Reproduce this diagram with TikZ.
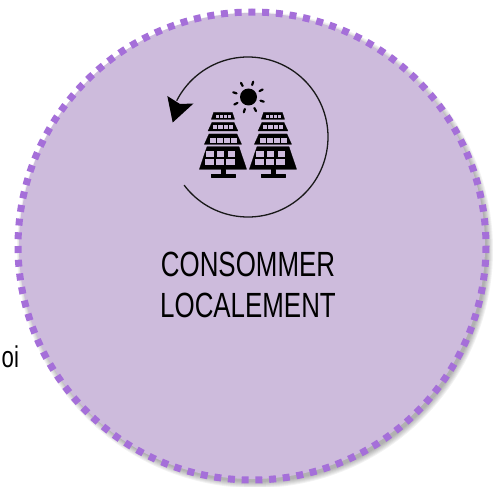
\documentclass[tikz,border=0pt]{standalone}
\usepackage{fontspec}
\setmainfont{Liberation Sans}
\newfontfamily\narrowfont[FakeStretch=0.74]{Liberation Sans}
\usetikzlibrary{arrows.meta}
\definecolor{discfill}{HTML}{CDBBDC}
\definecolor{discdots}{HTML}{A56FD9}
\tikzset{
  labeltext/.style={font=\narrowfont\fontsize{35}{41}\selectfont,align=center,text=black,inner sep=0pt},
  cell/.style={fill=discfill,draw=none},
  ink/.style={fill=black,draw=black,line width=0.2pt,line join=round},
  solarpanel/.pic={
    \fill[ink] (-28,217)--(28,217)--(35,238)--(-35,238)--cycle;
    \fill[ink] (-33,247)--(33,247)--(45,273)--(-45,273)--cycle;
    \fill[ink] (-42,282)--(42,282)--(56,313)--(-56,313)--cycle;
    \fill[ink] (-48,320)--(48,320)--(71,388)--(-71,388)--cycle;
    \fill[ink] (-6,388) rectangle (6,403);
    \fill[ink] (-37,403) rectangle (37,412);
    \foreach \a in {-22,-10,2,14}{\fill[cell] (\a,226) rectangle ++(9,8);}
    \foreach \a in {-30,-14,2,18}{\fill[cell] (\a,256) rectangle ++(13,12);}
    \foreach \a in {-40,-19,2,23}{\fill[cell] (\a,293) rectangle ++(18,15);}
    \foreach \a/\b in {-50/22,-18/22,14/22}{\fill[cell] (\a,332) rectangle ++(\b,19);\fill[cell] (\a-4,356) rectangle ++(\b+4,19);}
  }
}
\begin{document}
\begin{tikzpicture}[x=1pt,y=-1pt]
\useasboundingbox (0,0) rectangle (493,487);
\begin{scope}
\clip (0,0) rectangle (493,487);
\foreach \r in {238,237,236,235,234,233,232}{\fill[black,opacity=0.05] (255,250) circle[radius=\r];}
\fill[discfill] (252,246) circle[radius=233];
\draw[discdots,line width=7pt,dash pattern=on 7pt off 6.74pt] (252,246) circle[radius=234];
\node[anchor=base west,inner sep=0pt,font=\narrowfont\fontsize{30}{30}\selectfont] (cut) at (1.5,367) {oi};
\end{scope}
\node[labeltext] (caption) at (248,284.5) {CONSOMMER\\LOCALEMENT};
\draw[line width=1.3pt,black!90] (248,137) ++(143:80) arc[start angle=143,end angle=-153,radius=80];
\fill[black] (167.3,96) -- (180,104) -- (193.5,103.5) -- (172.7,122.5) -- cycle;
\fill[black] (248.5,97) circle[radius=8.5];
\foreach \t in {0,45,...,315}{\draw[line width=2.2pt,line cap=round] (248.5,97) ++(\t+17:12.5) -- ++(\t+17:3.5);}
\begin{scope}[x=0.3333pt,y=-0.3333pt]
\pic at (669,120) {solarpanel};
\pic at (819,120) {solarpanel};
\end{scope}
\end{tikzpicture}
\end{document}
